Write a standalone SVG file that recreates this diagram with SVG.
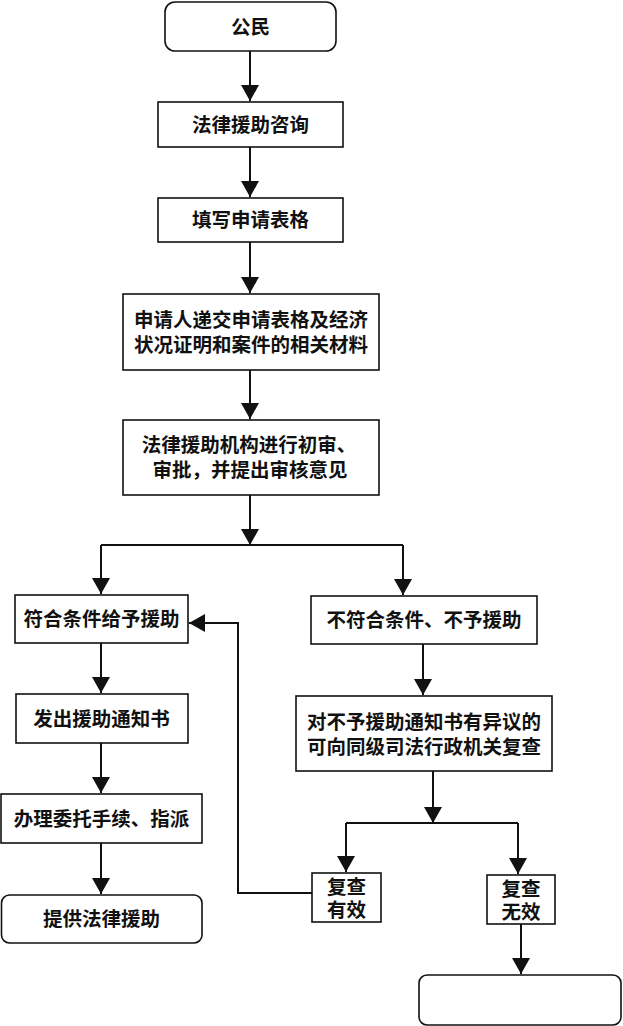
<svg xmlns="http://www.w3.org/2000/svg" width="623" height="1026" viewBox="0 0 623 1026">
<style>
.box{fill:#fff;stroke:#111;stroke-width:1.6}
.t{font-family:"Liberation Sans","Noto Sans CJK SC",sans-serif;font-size:19.5px;font-weight:bold;fill:#111;text-anchor:middle;dominant-baseline:central}
.c{fill:none;stroke:#111;stroke-width:2}
</style>
<defs>
<marker id="ah" markerUnits="userSpaceOnUse" markerWidth="16" markerHeight="18" viewBox="0 0 16 18" refX="16" refY="9" orient="auto">
<path d="M0,0 L16,9 L0,18 Z" fill="#111"/>
</marker>
</defs>
<rect width="623" height="1026" fill="#fff"/>
<g id="connectors">
<path class="c" d="M250,51 V101" marker-end="url(#ah)"/>
<path class="c" d="M250,147 V197" marker-end="url(#ah)"/>
<path class="c" d="M250,242 V293" marker-end="url(#ah)"/>
<path class="c" d="M250,370 V419" marker-end="url(#ah)"/>
<path class="c" d="M250,495 V545" marker-end="url(#ah)"/>
<path class="c" d="M101,545 H403"/>
<path class="c" d="M101,545 V594" marker-end="url(#ah)"/>
<path class="c" d="M403,545 V595" marker-end="url(#ah)"/>
<path class="c" d="M101,643 V693" marker-end="url(#ah)"/>
<path class="c" d="M101,743 V793" marker-end="url(#ah)"/>
<path class="c" d="M101,843 V894" marker-end="url(#ah)"/>
<path class="c" d="M423,644 V695" marker-end="url(#ah)"/>
<path class="c" d="M433,771 V823" marker-end="url(#ah)"/>
<path class="c" d="M346,823 H518"/>
<path class="c" d="M346,823 V872" marker-end="url(#ah)"/>
<path class="c" d="M518,823 V874" marker-end="url(#ah)"/>
<path class="c" d="M521,924 V974" marker-end="url(#ah)"/>
<path class="c" d="M312,893 H238 V623 H189" marker-end="url(#ah)"/>
</g>
<g id="n1"><rect class="box" x="165" y="2" width="171" height="49" rx="10"/><text class="t" x="250.5" y="27">公民</text></g>
<g id="n2"><rect class="box" x="158" y="102" width="185" height="45"/><text class="t" x="250.5" y="124.5">法律援助咨询</text></g>
<g id="n3"><rect class="box" x="158" y="198" width="185" height="44"/><text class="t" x="250.5" y="220">填写申请表格</text></g>
<g id="n4"><rect class="box" x="123" y="294" width="256" height="76"/><text class="t" x="251" y="320">申请人递交申请表格及经济</text><text class="t" x="251" y="345">状况证明和案件的相关材料</text></g>
<g id="n5"><rect class="box" x="123" y="420" width="256" height="75"/><text class="t" x="249" y="444.5">法律援助机构进行初审、</text><text class="t" x="250" y="469.5">审批，并提出审核意见</text></g>
<g id="n6"><rect class="box" x="15" y="595" width="173" height="48"/><text class="t" x="101.5" y="619">符合条件给予援助</text></g>
<g id="n7"><rect class="box" x="311" y="596" width="226" height="48"/><text class="t" x="424" y="620">不符合条件、不予援助</text></g>
<g id="n8"><rect class="box" x="16" y="694" width="172" height="49"/><text class="t" x="101.5" y="718.5">发出援助通知书</text></g>
<g id="n9"><rect class="box" x="296" y="696" width="256" height="75"/><text class="t" x="424" y="722">对不予援助通知书有异议的</text><text class="t" x="424" y="747">可向同级司法行政机关复查</text></g>
<g id="n10"><rect class="box" x="1" y="794" width="201" height="49"/><text class="t" x="101.5" y="818.5">办理委托手续、指派</text></g>
<g id="n11"><rect class="box" x="1.5" y="895" width="200.5" height="48" rx="8"/><text class="t" x="101.5" y="919">提供法律援助</text></g>
<g id="n12"><rect class="box" x="312" y="873" width="69" height="49"/><text class="t" x="346.5" y="886.5">复查</text><text class="t" x="346.5" y="909.5">有效</text></g>
<g id="n13"><rect class="box" x="487" y="875" width="68" height="49"/><text class="t" x="521" y="888.5">复查</text><text class="t" x="521" y="911.5">无效</text></g>
<g id="n14"><rect class="box" x="419" y="975" width="202" height="50" rx="8"/></g>
</svg>
